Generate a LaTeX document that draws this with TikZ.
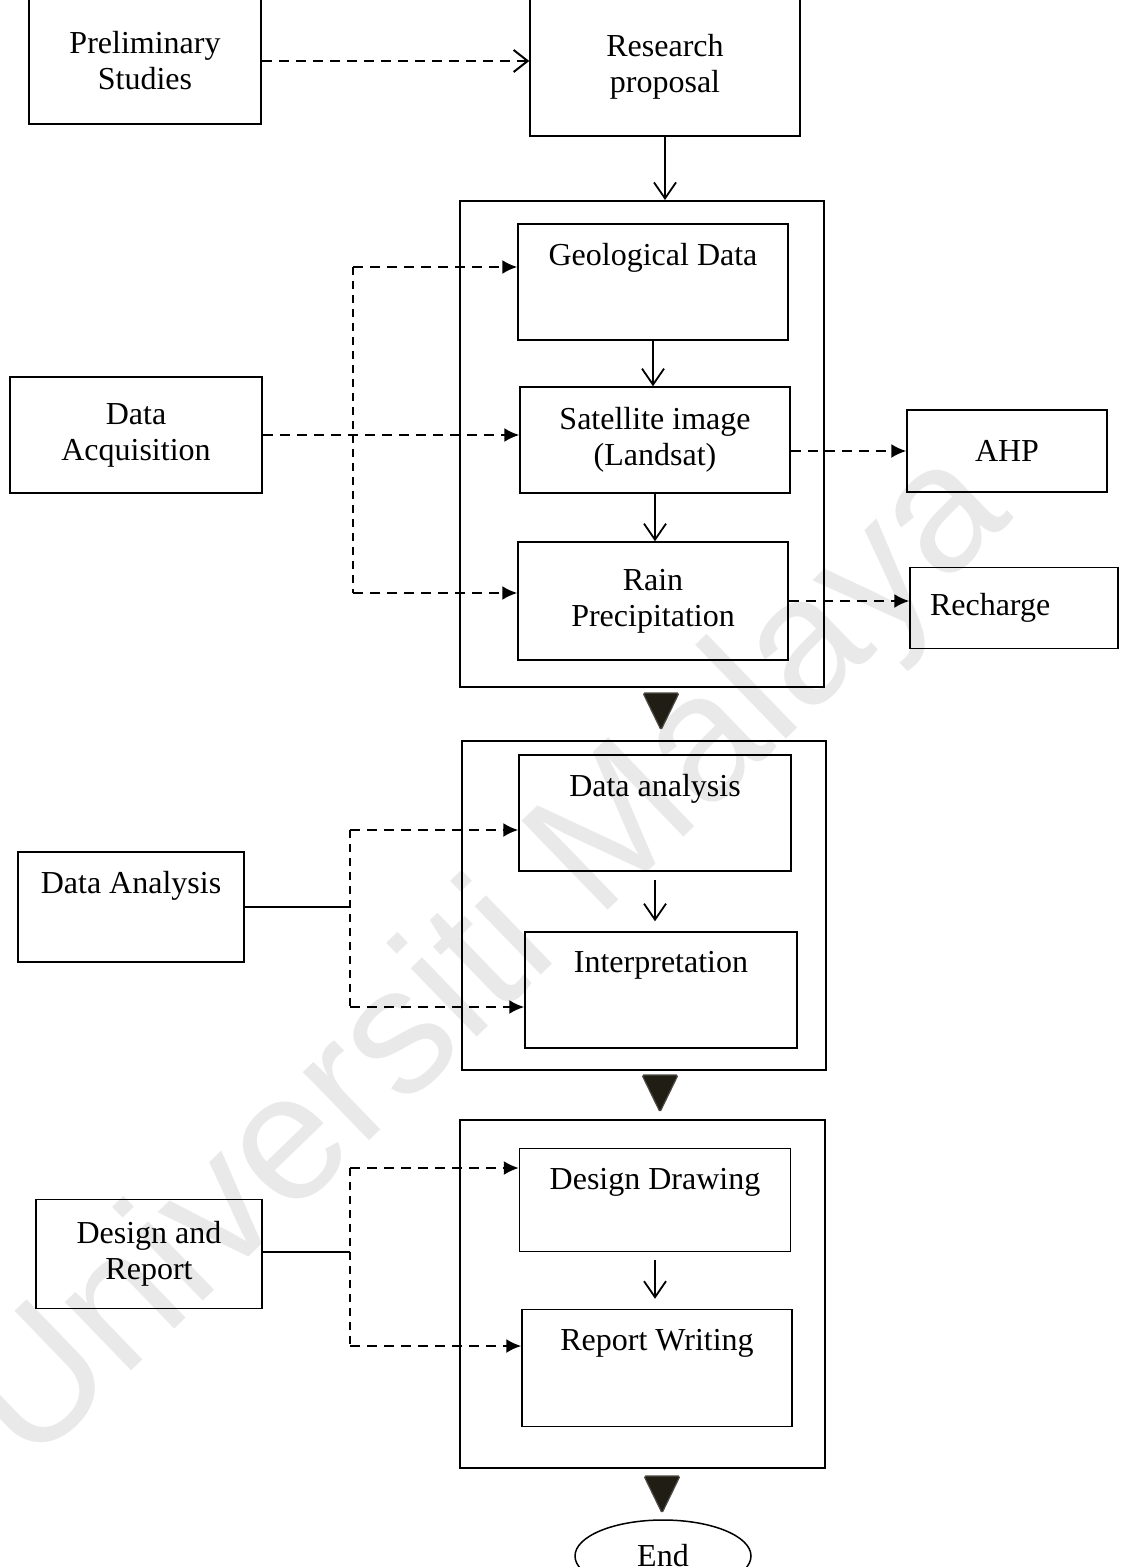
\documentclass[tikz,border=0pt]{standalone}
\usepackage{fontspec}
\setmainfont{Liberation Serif}
\newfontfamily\marksans{Liberation Sans}
\usetikzlibrary{
  arrows.meta,
  calc,
  shapes.geometric
}
\definecolor{wmgray}{RGB}{233,233,233}
\definecolor{tridark}{RGB}{32, 29, 20}
\tikzset{
  % Boxes
  stepbox/.style   = {draw, line width=0.75pt, inner sep=0pt, align=center},
  outerbox/.style  = {draw, line width=1pt, inner sep=0pt},
  topline/.style   = {label={[anchor=north, inner sep=0pt, yshift=-10pt, align=center]north:#1}},
  endnode/.style   = {ellipse, draw, line width=0.75pt, minimum width=88pt, minimum height=36pt},
  % Arrows
  flowarrow/.style = {-{Straight Barb[length=8pt, width=11pt]}, line width=0.9pt},
  dashopen/.style  = {-{Straight Barb[length=7pt, width=11pt]}, line width=1pt, dash pattern=on 5pt off 3.5pt},
  dashtip/.style   = {-{Latex[length=7.5pt, width=7pt]}, line width=1pt, dash pattern=on 5pt off 3.5pt},
  dashline/.style  = {line width=0.9pt, dash pattern=on 4pt off 3pt},
  plainline/.style = {line width=0.8pt},
  % Stage triangles
  stagetri/.style  = {fill=tridark, draw=tridark!80, line width=0.6pt, rounded corners=0.8pt},
}

\begin{document}
\begin{tikzpicture}[x=0.5pt, y=-0.5pt, font=\fontsize{16}{18}\selectfont]
  \useasboundingbox (0,0) rectangle (1125,1567);
  % Watermark
  \node[font=\marksans\fontsize{90}{90}\selectfont, text=wmgray, rotate=44] (mark) at (490,960) {Universiti Malaya};
  % Top row
  \node[stepbox, minimum width=116pt, minimum height=63pt] (prelim) at (145,61) {Preliminary\\Studies};
  \node[stepbox, minimum width=135pt, minimum height=69pt] (proposal) at (665,67) {Research\\proposal};
  % Block 1
  \node[outerbox, minimum width=182pt, minimum height=243pt] (blockA) at (642,444) {};
  \node[stepbox, minimum width=135pt, minimum height=58pt, topline={Geological Data}] (geo) at (653,282) {};
  \node[stepbox, minimum width=135pt, minimum height=53pt] (sat) at (655,440) {Satellite image\\(Landsat)};
  \node[stepbox, minimum width=135pt, minimum height=59pt] (rain) at (653,601) {Rain\\Precipitation};
  \node[stepbox, minimum width=126pt, minimum height=58pt] (acq) at (136,435) {Data\\Acquisition};
  \node[stepbox, minimum width=100pt, minimum height=41pt] (ahp) at (1007,451) {AHP};
  \node[stepbox, text width=84pt, inner xsep=10pt, align=left, minimum height=40.5pt] (recharge) at (1014,608) {Recharge};
  % Block 2
  \node[outerbox, minimum width=182pt, minimum height=164.5pt] (blockB) at (644,905) {};
  \node[stepbox, minimum width=136pt, minimum height=58pt, topline={Data analysis}] (anal) at (655,813) {};
  \node[stepbox, minimum width=136pt, minimum height=58pt, topline={Interpretation}] (interp) at (661,990) {};
  \node[stepbox, minimum width=113pt, minimum height=55pt, topline={Data Analysis}] (danal) at (131,907) {};
  % Block 3
  \node[outerbox, minimum width=182.5pt, minimum height=174pt] (blockC) at (642,1294) {};
  \node[stepbox, minimum width=135.5pt, minimum height=51.5pt, topline={Design Drawing}] (drawing) at (655,1200) {};
  \node[stepbox, minimum width=135pt, minimum height=58.5pt, topline={Report Writing}] (report) at (657,1368) {};
  \node[stepbox, minimum width=113pt, minimum height=54.5pt] (design) at (149,1254) {Design and\\Report};
  % End
  \node[endnode] (finish) at (663,1556) {End};
  % Fork points
  \coordinate (forkA1) at (353,267);
  \coordinate (forkA2) at (353,593);
  \coordinate (joinB)  at (350,906);
  \coordinate (forkB1) at (350,830);
  \coordinate (forkB2) at (350,1007);
  \coordinate (joinC)  at (350,1252);
  \coordinate (forkC1) at (350,1168);
  \coordinate (forkC2) at (350,1346);
  % Main flow
  \draw[dashopen] (prelim.east) -- (prelim.east -| proposal.west);
  \draw[flowarrow] (proposal.south) -- (proposal.south |- blockA.north);
  \draw[flowarrow] (geo.south) -- (geo.south |- sat.north);
  \draw[flowarrow] (sat.south) -- (sat.south |- rain.north);
  \draw[flowarrow, shorten <=4pt, shorten >=5pt] (anal.south) -- (anal.south |- interp.north);
  \draw[flowarrow, shorten <=4pt, shorten >=5pt] (drawing.south) -- (drawing.south |- report.north);
  % Data acquisition
  \draw[dashline] (forkA1) -- (forkA2);
  \draw[dashtip] (forkA1) -- (forkA1 -| geo.west);
  \draw[dashtip] (forkA2) -- (forkA2 -| rain.west);
  \draw[dashtip] (acq.east) -- (acq.east -| sat.west);
  \draw[dashtip] (sat.east |- ahp.west) -- (ahp.west);
  \draw[dashtip] (rain.east) -- (rain.east -| recharge.west);
  % Data analysis
  \draw[plainline] (danal.east) -- (danal.east -| joinB);
  \draw[dashline] (forkB1) -- (forkB2);
  \draw[dashtip] (forkB1) -- (forkB1 -| anal.west);
  \draw[dashtip] (forkB2) -- (forkB2 -| interp.west);
  % Design and report
  \draw[plainline] (design.east |- joinC) -- (joinC);
  \draw[dashline] (forkC1) -- (forkC2);
  \draw[dashtip] (forkC1) -- (forkC1 -| drawing.west);
  \draw[dashtip] (forkC2) -- (forkC2 -| report.west);
  % Stage triangles
  \coordinate (triA) at (661,711);
  \coordinate (triB) at (660,1093);
  \coordinate (triC) at (662,1494);
  \foreach \t in {triA, triB, triC}
    \fill[stagetri] ($(\t)+(-18,-18)$) -- ++(36,0) -- ++(-18,37) -- cycle;
\end{tikzpicture}
\end{document}
